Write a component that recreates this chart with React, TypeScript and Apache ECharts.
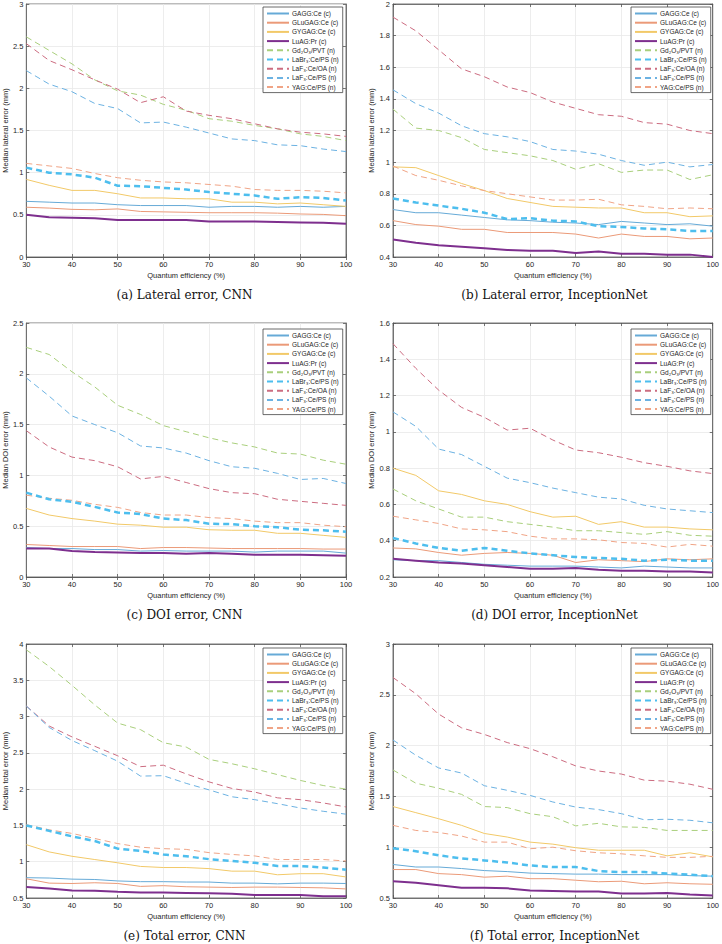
import React, { useEffect, useRef } from "react";
import * as echarts from "echarts";

const qe = [30, 35, 40, 45, 50, 55, 60, 65, 70, 75, 80, 85, 90, 95, 100];

const seriesNames = [
  "GAGG:Ce (c)",
  "GLuGAG:Ce (c)",
  "GYGAG:Ce (c)",
  "LuAG:Pr (c)",
  "Gd₂O₃/PVT (n)",
  "LaBr₃:Ce/PS (n)",
  "LaF₃:Ce/OA (n)",
  "LaF₃:Ce/PS (n)",
  "YAG:Ce/PS (n)",
];

// (a) Lateral error, CNN
const latCnn = [
  [0.66, 0.65, 0.64, 0.64, 0.62, 0.61, 0.61, 0.61, 0.59, 0.6, 0.6, 0.59, 0.6, 0.59, 0.6],
  [0.59, 0.58, 0.565, 0.56, 0.57, 0.54, 0.535, 0.53, 0.525, 0.525, 0.525, 0.52, 0.51, 0.505, 0.49],
  [0.92, 0.85, 0.79, 0.79, 0.75, 0.7, 0.7, 0.69, 0.69, 0.65, 0.65, 0.63, 0.64, 0.62, 0.6],
  [0.5, 0.47, 0.465, 0.46, 0.44, 0.44, 0.44, 0.44, 0.42, 0.42, 0.42, 0.415, 0.41, 0.405, 0.395],
  [2.61, 2.45, 2.29, 2.1, 1.97, 1.92, 1.81, 1.74, 1.64, 1.61, 1.56, 1.52, 1.46, 1.43, 1.38],
  [1.06, 1.0, 0.98, 0.94, 0.845, 0.84, 0.82, 0.8, 0.77, 0.75, 0.73, 0.69, 0.71, 0.7, 0.67],
  [2.53, 2.33, 2.22, 2.1, 1.99, 1.83, 1.9, 1.73, 1.68, 1.64, 1.58, 1.52, 1.48, 1.46, 1.43],
  [2.21, 2.05, 1.96, 1.82, 1.76, 1.59, 1.6, 1.54, 1.47, 1.4, 1.38, 1.33, 1.32, 1.28, 1.25],
  [1.11, 1.08, 1.05, 0.99, 0.94, 0.91, 0.89, 0.88, 0.86, 0.84, 0.8, 0.79, 0.79, 0.78, 0.76],
];

// (b) Lateral error, InceptionNet
const latInc = [
  [0.7, 0.68, 0.68, 0.665, 0.65, 0.635, 0.63, 0.62, 0.615, 0.605, 0.625, 0.615, 0.605, 0.61, 0.595],
  [0.63, 0.605, 0.595, 0.575, 0.575, 0.555, 0.555, 0.555, 0.545, 0.52, 0.545, 0.53, 0.53, 0.515, 0.52],
  [0.97, 0.965, 0.915, 0.865, 0.82, 0.77, 0.745, 0.72, 0.715, 0.71, 0.71, 0.68, 0.68, 0.655, 0.66],
  [0.51, 0.49, 0.475, 0.465, 0.455, 0.445, 0.44, 0.44, 0.425, 0.435, 0.42, 0.42, 0.415, 0.415, 0.4],
  [1.335, 1.215, 1.2, 1.155, 1.08, 1.06, 1.04, 1.01, 0.955, 0.99, 0.935, 0.95, 0.95, 0.89, 0.92],
  [0.77, 0.745, 0.725, 0.705, 0.68, 0.64, 0.645, 0.63, 0.625, 0.595, 0.59, 0.58, 0.575, 0.565, 0.565],
  [1.917, 1.83, 1.71, 1.59, 1.54, 1.475, 1.44, 1.38, 1.34, 1.3, 1.29, 1.25, 1.24, 1.2, 1.18],
  [1.457, 1.37, 1.31, 1.23, 1.18, 1.16, 1.13, 1.08, 1.07, 1.05, 1.01, 0.98, 1.0, 0.97, 0.985],
  [0.975, 0.915, 0.885, 0.85, 0.82, 0.8, 0.78, 0.76, 0.76, 0.765, 0.73, 0.72, 0.705, 0.71, 0.705],
];

// (c) DOI error, CNN
const doiCnn = [
  [0.29, 0.28, 0.28, 0.27, 0.27, 0.255, 0.26, 0.255, 0.255, 0.255, 0.245, 0.255, 0.255, 0.255, 0.235],
  [0.32, 0.31, 0.3, 0.3, 0.3, 0.28, 0.29, 0.29, 0.285, 0.28, 0.28, 0.28, 0.28, 0.275, 0.275],
  [0.675, 0.61, 0.575, 0.55, 0.52, 0.51, 0.49, 0.49, 0.465, 0.46, 0.46, 0.43, 0.43, 0.41, 0.39],
  [0.28, 0.28, 0.255, 0.245, 0.24, 0.235, 0.235, 0.23, 0.235, 0.23, 0.22, 0.22, 0.22, 0.215, 0.21],
  [2.26, 2.19, 2.02, 1.87, 1.69, 1.6, 1.49, 1.43, 1.37, 1.32, 1.28, 1.22, 1.21, 1.15, 1.11],
  [0.83, 0.765, 0.74, 0.69, 0.635, 0.62, 0.575, 0.56, 0.525, 0.52, 0.5, 0.49, 0.465, 0.46, 0.445],
  [1.44, 1.28, 1.18, 1.145, 1.085, 0.965, 0.99, 0.93, 0.87, 0.83, 0.82, 0.765, 0.745, 0.725, 0.705],
  [1.96, 1.78, 1.585, 1.5, 1.42, 1.29, 1.27, 1.22, 1.145, 1.085, 1.07, 1.02, 0.96, 0.97, 0.92],
  [0.805, 0.775, 0.755, 0.715, 0.685, 0.635, 0.61, 0.61, 0.585, 0.575, 0.55, 0.535, 0.535, 0.51, 0.495],
];

// (d) DOI error, InceptionNet
const doiInc = [
  [0.295, 0.29, 0.29, 0.28, 0.27, 0.265, 0.26, 0.26, 0.26, 0.255, 0.25, 0.26, 0.255, 0.25, 0.25],
  [0.36, 0.355, 0.335, 0.32, 0.33, 0.335, 0.33, 0.32, 0.28, 0.295, 0.29, 0.285, 0.3, 0.295, 0.3],
  [0.8, 0.76, 0.675, 0.655, 0.62, 0.6, 0.56, 0.53, 0.535, 0.49, 0.505, 0.475, 0.475, 0.465, 0.46],
  [0.3, 0.29, 0.28, 0.275, 0.265, 0.255, 0.245, 0.245, 0.25, 0.24, 0.235, 0.235, 0.23, 0.23, 0.225],
  [0.685, 0.62, 0.575, 0.53, 0.53, 0.505, 0.49, 0.475, 0.455, 0.455, 0.445, 0.435, 0.45, 0.43, 0.425],
  [0.415, 0.385, 0.36, 0.345, 0.36, 0.345, 0.33, 0.32, 0.31, 0.305, 0.3, 0.29, 0.295, 0.29, 0.29],
  [1.486, 1.35, 1.23, 1.135, 1.08, 1.01, 1.02, 0.955, 0.9, 0.885, 0.86, 0.83, 0.81, 0.785, 0.77],
  [1.11, 1.03, 0.905, 0.875, 0.81, 0.745, 0.72, 0.69, 0.665, 0.64, 0.63, 0.595, 0.575, 0.565, 0.555],
  [0.535, 0.515, 0.495, 0.465, 0.46, 0.45, 0.425, 0.41, 0.41, 0.405, 0.39, 0.385, 0.365, 0.38, 0.37],
];

// (e) Total error, CNN
const totCnn = [
  [0.78, 0.775, 0.76, 0.755, 0.735, 0.725, 0.725, 0.72, 0.72, 0.705, 0.705, 0.695, 0.705, 0.705, 0.7],
  [0.765, 0.705, 0.7, 0.71, 0.7, 0.66, 0.67, 0.655, 0.65, 0.645, 0.65, 0.65, 0.645, 0.64, 0.625],
  [1.235, 1.135, 1.075, 1.03, 0.985, 0.935, 0.92, 0.92, 0.905, 0.87, 0.87, 0.82, 0.835, 0.835, 0.79],
  [0.65, 0.63, 0.605, 0.6, 0.585, 0.575, 0.575, 0.57, 0.565, 0.56, 0.54, 0.54, 0.54, 0.525, 0.525],
  [3.92, 3.69, 3.43, 3.16, 2.91, 2.82, 2.64, 2.58, 2.41, 2.35, 2.28, 2.2, 2.12, 2.05, 2.0],
  [1.5, 1.425, 1.35, 1.285, 1.18, 1.15, 1.1, 1.075, 1.035, 1.01, 0.985, 0.94, 0.94, 0.92, 0.89],
  [3.145, 2.87, 2.72, 2.59, 2.46, 2.31, 2.33, 2.21, 2.1, 2.01, 1.96, 1.88, 1.855, 1.81, 1.755],
  [3.145, 2.85, 2.67, 2.53, 2.385, 2.18, 2.185, 2.08, 1.99, 1.895, 1.855, 1.8, 1.74, 1.695, 1.655],
  [1.51, 1.44, 1.39, 1.32, 1.25, 1.2, 1.18, 1.17, 1.125, 1.1, 1.08, 1.03, 1.03, 1.03, 1.01],
];

// (f) Total error, InceptionNet
const totInc = [
  [0.83, 0.805, 0.805, 0.79, 0.77, 0.76, 0.745, 0.74, 0.735, 0.735, 0.73, 0.73, 0.73, 0.72, 0.715],
  [0.78, 0.78, 0.74, 0.73, 0.705, 0.715, 0.69, 0.69, 0.675, 0.66, 0.665, 0.64, 0.65, 0.64, 0.635],
  [1.4, 1.34, 1.28, 1.215, 1.135, 1.1, 1.05, 1.03, 0.995, 0.97, 0.97, 0.97, 0.915, 0.945, 0.905],
  [0.665, 0.65, 0.625, 0.6, 0.6, 0.595, 0.575, 0.57, 0.565, 0.565, 0.545, 0.545, 0.55, 0.535, 0.525],
  [1.76, 1.63, 1.58, 1.52, 1.4, 1.39, 1.33, 1.3, 1.21, 1.235, 1.2, 1.195, 1.165, 1.165, 1.165],
  [0.99, 0.96, 0.92, 0.89, 0.87, 0.85, 0.82, 0.805, 0.805, 0.765, 0.755, 0.755, 0.74, 0.73, 0.715],
  [2.67, 2.51, 2.31, 2.175, 2.11, 2.03, 1.97, 1.89, 1.8, 1.75, 1.72, 1.66, 1.65, 1.62, 1.57],
  [2.055, 1.905, 1.78, 1.73, 1.605, 1.56, 1.51, 1.445, 1.395, 1.37, 1.33, 1.27, 1.275, 1.265, 1.24],
  [1.215, 1.165, 1.145, 1.11, 1.05, 1.05, 0.985, 1.0, 0.965, 0.945, 0.935, 0.915, 0.9, 0.9, 0.91],
];

const panelData = [latCnn, latInc, doiCnn, doiInc, totCnn, totInc];
const captions = [
  "(a) Lateral error, CNN",
  "(b) Lateral error, InceptionNet",
  "(c) DOI error, CNN",
  "(d) DOI error, InceptionNet",
  "(e) Total error, CNN",
  "(f) Total error, InceptionNet",
];
const yNames = [
  "Median lateral error (mm)",
  "Median lateral error (mm)",
  "Median DOI error (mm)",
  "Median DOI error (mm)",
  "Median total error (mm)",
  "Median total error (mm)",
];
const yMin = [0, 0.4, 0, 0.2, 0.5, 0.5];
const yMax = [3, 2, 2.5, 1.6, 4, 3];
const yStep = [0.5, 0.2, 0.5, 0.2, 0.5, 0.5];
const xName = "Quantum efficiency (%)";

const seriesStyles = [
  { color: "#66aad7", width: 1, dash: false },
  { color: "#eb9a78", width: 1, dash: false },
  { color: "#f2c968", width: 1, dash: false },
  { color: "#7e2f8e", width: 2, dash: false },
  { color: "#a9cf7c", width: 1, dash: true },
  { color: "#4dbeee", width: 2.5, dash: true },
  { color: "#cc6c80", width: 1, dash: true },
  { color: "#6cb2e2", width: 1, dash: true },
  { color: "#f0a486", width: 1, dash: true },
];

const SANS = '"Liberation Sans", Arial, Helvetica, sans-serif';
const SERIF = '"DejaVu Serif", "Liberation Serif", serif';

export default function App() {
  const ref = useRef<HTMLDivElement>(null);

  useEffect(() => {
    if (!ref.current) return;
    const chart = echarts.init(ref.current, null, { renderer: "svg" });

    const rowTop = [3, 323, 644];
    const colLeft = [23, 393];
    const gw = 323;
    const gh = 254;

    const grids: any[] = [];
    const xAxes: any[] = [];
    const yAxes: any[] = [];
    const xMirror: any[] = [];
    const yMirror: any[] = [];
    const series: any[] = [];
    const legends: any[] = [];
    const graphics: any[] = [];

    const axisLine = { show: true, lineStyle: { color: "#555555", width: 0.8 } };
    const axisTick = { show: true, inside: true, length: 3, lineStyle: { color: "#555555", width: 0.8 } };

    for (let p = 0; p < 6; p++) {
      const col = p % 2;
      const row = Math.floor(p / 2);
      const left = colLeft[col];
      const top = rowTop[row];
      grids.push({
        left,
        top,
        width: gw,
        height: gh,
        show: true,
        borderColor: "#555555",
        borderWidth: 0.8,
        backgroundColor: "#ffffff",
        containLabel: false,
      });
      xAxes.push({
        gridIndex: p,
        type: "value",
        min: 30,
        max: 100,
        interval: 10,
        name: xName,
        nameLocation: "middle",
        nameGap: 14,
        nameTextStyle: { fontSize: 7.5, fontFamily: SANS, color: "#262626" },
        axisLine,
        axisTick,
        axisLabel: { fontSize: 7.5, fontFamily: SANS, color: "#262626", margin: 3 },
        splitLine: { show: true, lineStyle: { color: "#e8e8e8", width: 0.8 } },
      });
      xMirror.push({
        gridIndex: p,
        type: "value",
        position: "top",
        min: 30,
        max: 100,
        interval: 10,
        axisLine,
        axisTick,
        axisLabel: { show: false },
        splitLine: { show: false },
      });
      yAxes.push({
        gridIndex: p,
        type: "value",
        min: yMin[p],
        max: yMax[p],
        interval: yStep[p],
        name: yNames[p],
        nameLocation: "middle",
        nameGap: col === 0 ? 14 : 16,
        nameTextStyle: { fontSize: 7.5, fontFamily: SANS, color: "#262626" },
        axisLine,
        axisTick,
        axisLabel: { fontSize: 7.5, fontFamily: SANS, color: "#262626", margin: 3 },
        splitLine: { show: true, lineStyle: { color: "#e8e8e8", width: 0.8 } },
      });
      yMirror.push({
        gridIndex: p,
        type: "value",
        position: "right",
        min: yMin[p],
        max: yMax[p],
        interval: yStep[p],
        axisLine,
        axisTick,
        axisLabel: { show: false },
        splitLine: { show: false },
      });
      const data = panelData[p];
      for (let s = 0; s < seriesNames.length; s++) {
        const st = seriesStyles[s];
        series.push({
          type: "line",
          name: seriesNames[s],
          xAxisIndex: p,
          yAxisIndex: p,
          data: qe.map((x, i) => [x, data[s][i]]),
          symbol: "none",
          showSymbol: false,
          color: st.color,
          lineStyle: {
            color: st.color,
            width: st.width,
            type: st.dash ? [6, 4] : "solid",
          },
          z: 2 + (st.width > 1.5 ? 1 : 0),
        });
      }
      legends.push({
        orient: "vertical",
        left: col === 0 ? 263 : 631,
        top: top + (row === 1 ? 6 : 4),
        data: seriesNames,
        itemWidth: 22,
        itemHeight: 8,
        itemGap: 2.2,
        padding: [3, 4, 2, 3],
        borderColor: "#444444",
        borderWidth: 0.8,
        backgroundColor: "#ffffff",
        selectedMode: false,
        itemStyle: { opacity: 0 },
        textStyle: { fontSize: 6.5, fontFamily: SANS, color: "#262626", padding: [0, 0, 0, -2] },
      });
      graphics.push({
        type: "text",
        x: left + gw / 2,
        y: top + gh + 38,
        style: {
          text: captions[p],
          fontSize: 12,
          fontFamily: SERIF,
          fill: "#111111",
          textAlign: "center",
          textVerticalAlign: "middle",
        },
      });
    }

    chart.setOption({
      animation: false,
      backgroundColor: "#ffffff",
      grid: grids,
      xAxis: [...xAxes, ...xMirror],
      yAxis: [...yAxes, ...yMirror],
      legend: legends,
      series,
      graphic: graphics,
    });

    return () => {
      chart.dispose();
    };
  }, []);

  return (
    <div
      ref={ref}
      style={{ position: "absolute", left: 0, top: 0, width: 722, height: 944, background: "#fff" }}
    />
  );
}
